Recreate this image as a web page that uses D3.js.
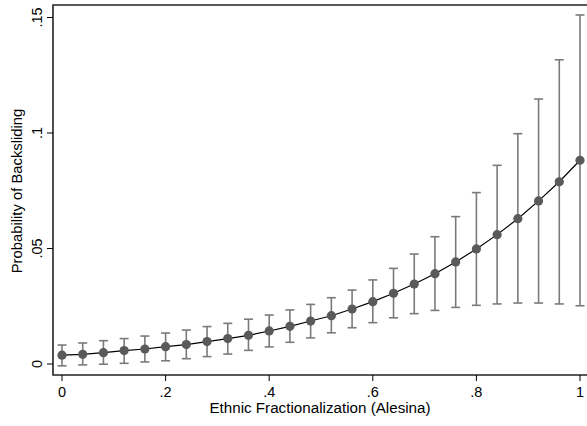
<!DOCTYPE html>
<html>
<head>
<meta charset="utf-8">
<script src="https://cdn.jsdelivr.net/npm/d3@7"></script>
<style>
  body { margin: 0; background: #fff; }
  text { font-family: "Liberation Sans", Arial, sans-serif; fill: #000; }
</style>
</head>
<body>
<div id="container"></div>
<script>
// predicted probability of backsliding by ethnic fractionalization
var frac = [0, .04, .08, .12, .16, .2, .24, .28, .32, .36, .4, .44, .48,
            .52, .56, .6, .64, .68, .72, .76, .8, .84, .88, .92, .96, 1];
var prob = [.0038, .0042, .0049, .0058, .0065, .0075, .0084, .0097, .011, .0124, .0143, .0163, .0186,
            .0209, .0238, .027, .0306, .0346, .0391, .0442, .0498, .056, .0629, .0706, .0789, .0882];
var upper = [.0082, .0091, .0101, .011, .0121, .0134, .0147, .0162, .0176, .0194, .0212, .0234, .0258,
             .0287, .032, .0364, .0414, .0476, .0551, .0638, .0742, .086, .0997, .1147, .1317, .1511];
var lower = [-.0008, -.0004, -.0001, .0003, .0009, .0014, .0023, .0032, .0043, .0059, .0074, .0094, .0113,
             .0135, .0157, .0179, .02, .0218, .0232, .0245, .0254, .026, .0264, .0264, .026, .0252];
var xTicks = [0, .2, .4, .6, .8, 1];
var xLabels = ["0", ".2", ".4", ".6", ".8", "1"];
var yTicks = [0, .05, .1, .15];
var yLabels = ["0", ".05", ".1", ".15"];

var width = 587,
    height = 426

var frameL = 53, frameT = 5, frameB = 375

var x = d3.scaleLinear().domain([0, 1]).range([62, 580]);
var y = d3.scaleLinear().domain([0, .15]).range([364, 17.5]);

var data = frac.map(function (f, i) {
    return { x: f, p: prob[i], hi: upper[i], lo: lower[i] };
});

var svg = d3.select("div#container").append("svg")
    .attr("width", width)
    .attr("height", height);

// frame (right side runs off the picture)
svg.append("path")
    .attr("d", "M" + (width + 5) + "," + frameT + "H" + frameL + "V" + frameB + "H" + (width + 5))
    .attr("fill", "none")
    .attr("stroke", "#222")
    .attr("stroke-width", 1.6);

// x axis ticks
var gx = svg.append("g");
gx.selectAll("line").data(xTicks).enter().append("line")
    .attr("x1", function (d) { return x(d); })
    .attr("x2", function (d) { return x(d); })
    .attr("y1", frameB)
    .attr("y2", frameB + 6)
    .attr("stroke", "#000");
gx.selectAll("text").data(xTicks).enter().append("text")
    .attr("x", function (d) { return x(d); })
    .attr("y", frameB + 22)
    .attr("text-anchor", "middle")
    .style("font-size", "14.5px")
    .text(function (d, i) { return xLabels[i]; });

// y axis ticks
var gy = svg.append("g");
gy.selectAll("line").data(yTicks).enter().append("line")
    .attr("x1", frameL)
    .attr("x2", frameL - 6)
    .attr("y1", function (d) { return y(d); })
    .attr("y2", function (d) { return y(d); })
    .attr("stroke", "#000");
gy.selectAll("text").data(yTicks).enter().append("text")
    .attr("transform", function (d) { return "translate(42," + y(d) + ") rotate(-90)"; })
    .attr("text-anchor", "middle")
    .style("font-size", "14.5px")
    .text(function (d, i) { return yLabels[i]; });

// axis titles
svg.append("text")
    .attr("x", 320)
    .attr("y", 413)
    .attr("text-anchor", "middle")
    .style("font-size", "15.2px")
    .text("Ethnic Fractionalization (Alesina)");

svg.append("text")
    .attr("transform", "translate(22,191) rotate(-90)")
    .attr("text-anchor", "middle")
    .style("font-size", "14.8px")
    .text("Probability of Backsliding");

// confidence intervals
var ci = svg.append("g")
    .attr("stroke", "#7a7a7a")
    .attr("stroke-width", 1.6);
ci.selectAll(".bar").data(data).enter().append("line")
    .attr("x1", function (d) { return x(d.x); })
    .attr("x2", function (d) { return x(d.x); })
    .attr("y1", function (d) { return y(d.lo); })
    .attr("y2", function (d) { return y(d.hi); });
ci.selectAll(".capHi").data(data).enter().append("line")
    .attr("x1", function (d) { return x(d.x) - 4.5; })
    .attr("x2", function (d) { return x(d.x) + 4.5; })
    .attr("y1", function (d) { return y(d.hi); })
    .attr("y2", function (d) { return y(d.hi); });
ci.selectAll(".capLo").data(data).enter().append("line")
    .attr("x1", function (d) { return x(d.x) - 4.5; })
    .attr("x2", function (d) { return x(d.x) + 4.5; })
    .attr("y1", function (d) { return y(d.lo); })
    .attr("y2", function (d) { return y(d.lo); });

// predicted line
var line = d3.line()
    .x(function (d) { return x(d.x); })
    .y(function (d) { return y(d.p); });
svg.append("path")
    .datum(data)
    .attr("d", line)
    .attr("fill", "none")
    .attr("stroke", "#000")
    .attr("stroke-width", 1.2);

svg.selectAll(".node").data(data).enter().append("circle")
    .attr("class", "node")
    .attr("cx", function (d) { return x(d.x); })
    .attr("cy", function (d) { return y(d.p); })
    .attr("r", 4.6)
    .style("fill", "#5a5a5a");
</script>
</body>
</html>
